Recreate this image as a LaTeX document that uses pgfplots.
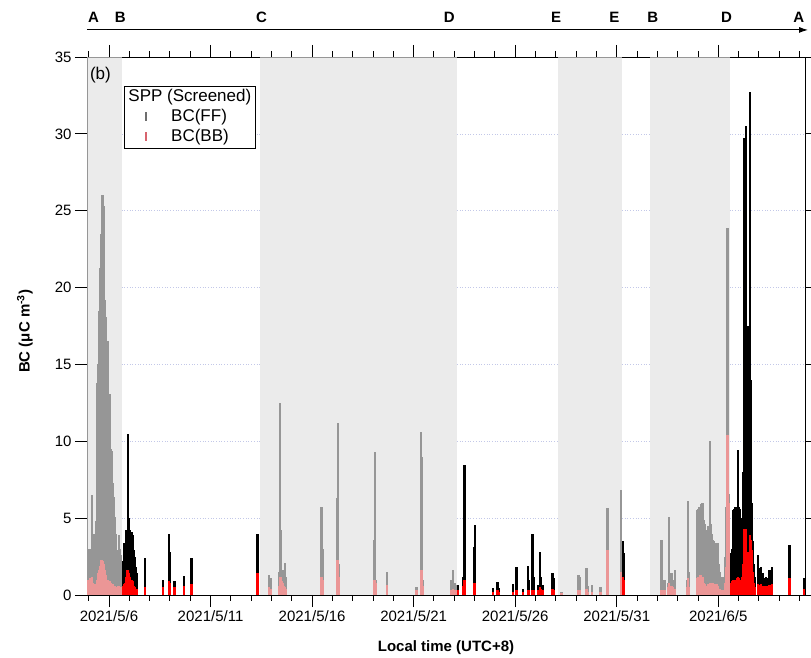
\documentclass[border=0pt]{standalone}
\usepackage{pgfplots}
\pgfplotsset{compat=1.18}
\usepackage{fontspec}
\setmainfont{Liberation Sans}
\usetikzlibrary{arrows.meta}
\definecolor{shadec}{RGB}{225,225,225}
\definecolor{gridc}{RGB}{195,200,232}
\definecolor{legff}{RGB}{110,110,110}
\definecolor{legbb}{RGB}{215,100,110}
\tikzset{perlab/.style={font=\bfseries\fontsize{15}{18}\selectfont, inner sep=0pt}}
\begin{document}
\begin{tikzpicture}
\useasboundingbox (-87pt,-63pt) rectangle (724pt,595pt);
\begin{axis}[
  at={(0pt,0pt)}, anchor=south west,
  scale only axis, width=718pt, height=538pt,
  xmin=4.917, xmax=40.27, ymin=0, ymax=35,
  clip mode=individual,
  xtick={6,11,16,21,26,31,36},
  xticklabels={2021/5/6,2021/5/11,2021/5/16,2021/5/21,2021/5/26,2021/5/31,2021/6/5},
  minor xtick={5,7,8,9,10,12,13,14,15,17,18,19,20,22,23,24,25,27,28,29,30,32,33,34,35,37,38,39,40},
  ytick={0,5,...,35},
  ytick pos=left,
  tick align=outside,
  major tick length=12pt, minor tick length=6pt,
  every tick/.style={black, line width=0.9pt},
  axis line style={black, line width=0.9pt},
  tick label style={font=\fontsize{15}{18}\selectfont},
  /pgf/number format/assume math mode=true,
  xlabel={\bfseries Local time (UTC+8)},
  ylabel={\bfseries BC (μC m\textsuperscript{-3})},
  every axis x label/.style={at={(axis description cs:0.5,0)}, anchor=base, yshift=-57pt, font=\fontsize{15}{18}\selectfont},
  every axis y label/.style={at={(axis description cs:-0.0864,0.49)}, rotate=90, anchor=center, font=\fontsize{15}{18}\selectfont},
]
% horizontal grid lines, visible only outside the screened periods
\addplot[gridc, dotted, line width=0.7pt, unbounded coords=jump] coordinates {
(6.62,5)(13.43,5)(13.5,nan)(23.13,5)(28.09,5)(28.1,nan)(31.26,5)(32.64,5)(32.7,nan)(36.56,5)(40.27,5)(40.3,nan)
(6.62,10)(13.43,10)(13.5,nan)(23.13,10)(28.09,10)(28.1,nan)(31.26,10)(32.64,10)(32.7,nan)(36.56,10)(40.27,10)(40.3,nan)
(6.62,15)(13.43,15)(13.5,nan)(23.13,15)(28.09,15)(28.1,nan)(31.26,15)(32.64,15)(32.7,nan)(36.56,15)(40.27,15)(40.3,nan)
(6.62,20)(13.43,20)(13.5,nan)(23.13,20)(28.09,20)(28.1,nan)(31.26,20)(32.64,20)(32.7,nan)(36.56,20)(40.27,20)(40.3,nan)
(6.62,25)(13.43,25)(13.5,nan)(23.13,25)(28.09,25)(28.1,nan)(31.26,25)(32.64,25)(32.7,nan)(36.56,25)(40.27,25)(40.3,nan)
(6.62,30)(13.43,30)(13.5,nan)(23.13,30)(28.09,30)(28.1,nan)(31.26,30)(32.64,30)(32.7,nan)(36.56,30)(40.27,30)
};
% BC(FF) total height (FF stacked on BB)
\addplot[ycomb, black, line width=2.4pt] coordinates {
(4.96,2.8)(5.00,2.3)(5.04,3.0)(5.08,2.6)(5.12,2.2)(5.17,6.5)(5.21,3.6)(5.25,2.6)(5.29,4.0)(5.33,3.2)(5.37,4.8)(5.41,7.5)(5.44,13.8)(5.48,15.0)(5.52,18.5)(5.56,21.3)(5.60,20.5)(5.63,23.5)(5.66,25.0)(5.69,26.0)(5.72,25.3)(5.75,22.5)(5.78,19.2)(5.82,18.1)(5.86,16.8)(5.90,15.9)(5.94,16.5)(5.98,13.1)(6.02,13.1)(6.06,11.0)(6.10,9.5)(6.14,9.4)(6.18,7.3)(6.22,6.4)(6.26,5.5)(6.30,5.1)(6.34,4.0)(6.38,2.9)(6.42,2.5)(6.46,2.8)(6.50,3.9)(6.54,3.0)(6.58,2.6)
(6.64,1.3)(6.68,1.6)(6.72,2.2)(6.76,3.4)(6.80,3.0)(6.84,4.2)(6.88,3.8)(6.91,4.2)(6.95,10.5)(6.99,5.0)(7.03,4.2)(7.07,3.8)(7.11,4.1)(7.15,3.9)(7.19,3.4)(7.23,2.9)(7.27,2.5)(7.31,1.8)(7.35,1.4)
(7.77,2.4)(8.67,1.0)(8.95,4.0)(8.99,2.8)(9.23,0.9)(9.69,1.25)(10.06,2.4)(10.10,2.2)(13.31,4.0)(13.35,2.7)
(13.89,1.3)(13.93,0.8)(13.97,1.1)(14.37,1.5)(14.42,12.5)(14.46,4.2)(14.50,1.6)(14.54,1.5)(14.58,1.6)(14.62,1.5)(14.66,2.1)(14.70,1.2)(16.47,5.75)(16.51,3.0)(17.23,6.3)(17.28,11.2)(17.32,2.0)(19.06,3.6)(19.10,9.3)(19.14,1.0)(19.70,1.5)(21.15,0.55)(21.35,10.6)(21.39,9.0)(21.43,1.0)(22.87,1.0)(22.95,1.6)(23.02,0.8)
(23.15,0.65)(23.46,1.2)(23.50,8.45)(23.54,3.6)(23.98,3.15)(24.02,4.55)(24.92,0.45)(25.12,0.85)(25.16,0.75)(25.20,0.45)(25.88,0.7)(26.07,1.8)(26.37,0.4)(26.62,1.9)(26.67,1.0)(26.82,1.0)(26.86,3.95)(26.90,1.2)(27.15,0.65)(27.22,2.8)(27.26,1.2)(27.38,0.65)(27.80,0.75)(27.84,1.45)(27.88,1.1)
(28.29,0.2)(29.11,1.3)(29.19,1.2)(29.52,1.75)(29.56,0.6)(29.77,0.65)(30.21,0.55)(30.54,5.65)(31.21,6.8)
(31.31,3.5)(31.35,2.7)
(33.21,3.55)(33.25,1.0)(33.38,1.0)(33.53,0.75)(33.57,5.1)(33.61,1.2)(33.70,1.4)(33.78,1.0)(33.87,1.6)(34.48,1.0)(34.52,6.1)(34.56,1.5)(34.98,5.5)(35.02,5.6)(35.06,5.7)(35.10,5.6)(35.14,5.85)(35.18,5.9)(35.22,6.0)(35.26,5.9)(35.30,4.9)(35.34,4.65)(35.38,3.5)(35.45,4.2)(35.50,4.5)(35.55,4.3)(35.59,10.0)(35.63,4.65)(35.67,4.0)(35.71,3.6)(35.75,2.7)(35.80,3.5)(35.84,3.4)(35.88,3.0)(35.92,3.4)(35.96,2.5)(36.00,3.4)(36.04,2.0)(36.08,1.5)(36.20,1.2)(36.32,2.5)(36.37,5.75)(36.42,5.5)(36.46,23.9)(36.50,6.6)(36.54,5.75)
(36.60,2.0)(36.66,2.7)(36.70,3.0)(36.74,5.5)(36.78,5.6)(36.82,5.75)(36.87,5.5)(36.91,5.75)(36.98,9.45)(37.03,5.75)(37.07,5.6)(37.11,5.0)(37.15,4.0)(37.19,5.0)(37.23,8.0)(37.29,29.7)(37.35,30.5)(37.47,17.5)(37.56,32.7)(37.61,14.0)(37.66,6.0)(37.70,3.5)(37.75,2.0)(37.82,1.2)(37.95,2.6)(38.03,1.75)(38.11,1.85)(38.19,1.4)(38.28,1.1)(38.36,1.2)(38.44,1.1)(38.52,1.6)(38.63,1.85)(39.50,3.25)(39.54,1.85)(40.22,1.1)
};
% BC(BB)
\addplot[ycomb, red, line width=2.4pt] coordinates {
(4.96,0.9)(5.00,1.0)(5.04,0.8)(5.08,1.1)(5.12,0.7)(5.17,1.2)(5.21,0.8)(5.25,0.6)(5.29,0.7)(5.33,0.6)(5.37,0.7)(5.41,0.8)(5.44,1.0)(5.48,1.4)(5.52,1.6)(5.56,1.9)(5.60,2.2)(5.63,2.3)(5.66,2.3)(5.69,2.2)(5.72,2.0)(5.75,1.8)(5.78,1.6)(5.82,1.3)(5.86,1.1)(5.90,1.0)(5.94,1.0)(5.98,0.9)(6.02,0.9)(6.06,0.8)(6.10,0.8)(6.14,0.7)(6.18,0.7)(6.22,0.6)(6.26,0.6)(6.30,0.6)(6.34,0.5)(6.38,0.5)(6.42,0.5)(6.46,0.6)(6.50,0.6)(6.54,0.5)(6.58,0.5)
(6.64,0.5)(6.68,0.6)(6.72,0.6)(6.76,0.7)(6.80,0.8)(6.84,1.2)(6.88,1.5)(6.91,1.6)(6.95,1.6)(6.99,1.4)(7.03,1.2)(7.07,1.0)(7.11,1.0)(7.15,0.9)(7.19,0.8)(7.23,0.6)(7.27,0.5)(7.31,0.4)(7.35,0.4)
(7.77,0.5)(8.67,0.5)(8.95,0.9)(8.99,0.8)(9.23,0.5)(9.69,0.6)(10.06,0.7)(10.10,0.6)(13.31,1.4)(13.35,1.2)
(13.89,0.5)(13.93,0.3)(13.97,0.4)(14.37,0.6)(14.42,1.2)(14.46,1.2)(14.50,0.9)(14.54,0.8)(14.58,0.8)(14.62,0.6)(14.66,0.5)(14.70,0.4)(16.47,1.2)(16.51,1.0)(17.23,2.3)(17.28,2.3)(17.32,1.2)(19.06,1.0)(19.10,1.0)(19.14,0.8)(19.70,0.65)(21.15,0.3)(21.35,1.6)(21.39,1.6)(21.43,0.6)(22.87,0.3)(22.95,0.4)(23.02,0.3)
(23.15,0.3)(23.46,0.6)(23.50,1.0)(23.54,1.0)(23.98,0.8)(24.02,0.8)(24.92,0.2)(25.12,0.3)(25.16,0.3)(25.20,0.2)(25.88,0.2)(26.07,0.3)(26.37,0.2)(26.62,0.3)(26.67,0.3)(26.82,0.3)(26.86,0.35)(26.90,0.3)(27.15,0.3)(27.22,0.5)(27.26,0.4)(27.38,0.3)(27.80,0.3)(27.84,0.4)(27.88,0.3)
(28.29,0.1)(29.11,0.3)(29.19,0.3)(29.52,0.4)(29.56,0.2)(29.77,0.2)(30.21,0.2)(30.54,2.9)(31.21,1.5)
(31.31,1.2)(31.35,1.0)
(33.21,0.3)(33.25,0.3)(33.38,0.3)(33.53,0.5)(33.57,0.75)(33.61,0.4)(33.70,0.6)(33.78,0.5)(33.87,0.4)(34.48,0.5)(34.52,1.1)(34.56,0.5)(34.98,1.1)(35.02,1.2)(35.06,1.2)(35.10,1.3)(35.14,1.3)(35.18,1.2)(35.22,1.2)(35.26,0.8)(35.30,0.8)(35.34,0.7)(35.38,0.6)(35.45,0.6)(35.50,0.7)(35.55,0.6)(35.59,0.8)(35.63,0.8)(35.67,0.75)(35.71,0.75)(35.75,0.6)(35.80,0.7)(35.84,0.7)(35.88,0.6)(35.92,0.7)(35.96,0.5)(36.00,0.6)(36.04,0.4)(36.08,0.4)(36.20,0.3)(36.32,0.8)(36.37,1.8)(36.42,2.9)(36.46,10.4)(36.50,6.0)(36.54,3.0)
(36.60,0.7)(36.66,0.8)(36.70,0.9)(36.74,1.0)(36.78,1.0)(36.82,1.0)(36.87,1.0)(36.91,1.1)(36.98,1.2)(37.03,1.1)(37.07,1.0)(37.11,0.9)(37.15,0.9)(37.19,1.2)(37.23,2.0)(37.29,4.3)(37.35,4.3)(37.47,2.8)(37.56,3.9)(37.61,3.6)(37.66,2.9)(37.70,1.5)(37.75,0.8)(37.82,0.5)(37.95,0.7)(38.03,0.65)(38.11,0.7)(38.19,0.6)(38.28,0.6)(38.36,0.6)(38.44,0.6)(38.52,0.65)(38.63,0.7)(39.50,1.1)(39.54,0.8)(40.22,0.4)
};
% screened periods (translucent overlay)
\addplot[draw=none, fill=shadec, fill opacity=0.667] coordinates {(4.917,35) (6.62,35)} \closedcycle;
\addplot[draw=none, fill=shadec, fill opacity=0.667] coordinates {(13.43,35) (23.13,35)} \closedcycle;
\addplot[draw=none, fill=shadec, fill opacity=0.667] coordinates {(28.09,35) (31.26,35)} \closedcycle;
\addplot[draw=none, fill=shadec, fill opacity=0.667] coordinates {(32.64,35) (36.56,35)} \closedcycle;
\draw[black, line width=0.9pt] (rel axis cs:0,0) -- (rel axis cs:1,0);
% legend
\node[draw=black, line width=0.9pt, fill=white, anchor=north west, inner xsep=4pt, inner ysep=3pt,
      font=\fontsize{17}{20}\selectfont, align=left] at (rel axis cs:0.0515,0.946)
  {SPP (Screened)\\
   \hspace*{17pt}\textcolor{legff}{\rule[1pt]{1.8pt}{9pt}}\hspace*{24pt}BC(FF)\\
   \hspace*{17pt}\textcolor{legbb}{\rule[1pt]{1.8pt}{9pt}}\hspace*{24pt}BC(BB)};
\node[anchor=west, inner sep=0pt, font=\fontsize{17}{20}\selectfont] at (rel axis cs:0.004,0.9665) {(b)};
% period letters and arrow
\draw[black, line width=1pt, -{Latex[length=9pt,width=6pt]}] (axis cs:4.917,36.76) -- (axis cs:40.42,36.76);
\node[perlab] at (axis cs:5.24,37.6) {A};
\node[perlab] at (axis cs:6.56,37.6) {B};
\node[perlab] at (axis cs:13.51,37.6) {C};
\node[perlab] at (axis cs:22.75,37.6) {D};
\node[perlab] at (axis cs:28.01,37.6) {E};
\node[perlab] at (axis cs:30.88,37.6) {E};
\node[perlab] at (axis cs:32.77,37.6) {B};
\node[perlab] at (axis cs:36.41,37.6) {D};
\node[perlab] at (axis cs:39.97,37.6) {A};
\end{axis}
% short outward ticks on the right-hand axis
\begin{axis}[
  at={(0pt,0pt)}, anchor=south west,
  scale only axis, width=718pt, height=538pt,
  xmin=4.917, xmax=40.27, ymin=0, ymax=35,
  axis x line=none, axis y line*=right,
  ytick={0,5,...,35}, yticklabels={},
  tick align=outside, major tick length=6pt,
  every tick/.style={black, line width=0.9pt},
  axis line style={black, line width=0.9pt},
]
\end{axis}
\end{tikzpicture}
\end{document}
